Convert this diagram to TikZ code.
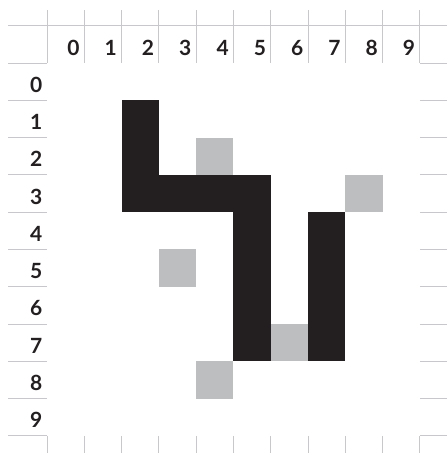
\documentclass[tikz,border=0pt]{standalone}
\usepackage{fontspec}
\setmainfont{Lato}
\definecolor{ink}{HTML}{231F20}
\definecolor{cellgray}{HTML}{BCBEC0}
\definecolor{rulegray}{HTML}{C8C8CC}
\tikzset{
  ruleline/.style={rulegray,line width=0.7pt},
  numlabel/.style={anchor=east,inner sep=0pt,text=ink}
}

\begin{document}
\begin{tikzpicture}[y=-1cm,font=\fontsize{16}{18}\selectfont\bfseries]
  \useasboundingbox (-1.26,-1.69) rectangle (10.72,10.46);
  % header line and column ticks
  \draw[ruleline] (-1.045,-1.02) -- (10.72,-1.02);
  \foreach \k in {0,...,10} {
    \draw[ruleline] (\k,-1.42) -- (\k,0);
    \draw[ruleline] (\k,10) -- (\k,10.6);
  }
  % row ticks on both sides
  \foreach \k in {0,...,10} {
    \draw[ruleline] (-1.045,\k) -- (0,\k);
    \draw[ruleline] (10,\k) -- (10.72,\k);
  }
  % column and row numbers
  \foreach \k in {0,...,9} {
    \node[numlabel] (col\k) at (\k+0.88,-0.4) {\k};
    \node[numlabel] (row\k) at (-0.12,\k+0.58) {\k};
  }
  % black path cells
  \fill[ink] (2,1) rectangle (3,4);
  \fill[ink] (2,3) rectangle (6,4);
  \fill[ink] (5,3) rectangle (6,8);
  \fill[ink] (7,4) rectangle (8,8);
  % grey cells
  \foreach \c/\r in {4/2,8/3,3/5,6/7,4/8}
    \fill[cellgray] (\c,\r) rectangle ++(1,1);
\end{tikzpicture}
\end{document}
